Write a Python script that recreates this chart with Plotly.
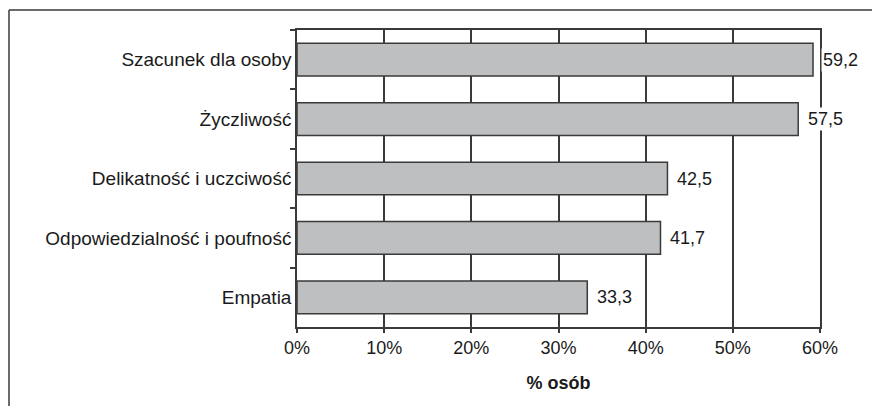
import plotly.graph_objects as go

# Survey results: share of respondents naming each attribute
categories = [
    "Szacunek dla osoby",
    "Życzliwość",
    "Delikatność i uczciwość",
    "Odpowiedzialność i poufność",
    "Empatia",
]
values = [59.2, 57.5, 42.5, 41.7, 33.3]
x_ticks = [0, 10, 20, 30, 40, 50, 60]
x_title = "<b>% osób</b>"

FONT = "Liberation Sans, Arial, Helvetica, sans-serif"
INK = "#1a1a1a"
LINE = "#3a3a3a"

W, H = 872, 406
M_L, M_R, M_T, M_B = 297, 52, 30, 79

fig = go.Figure()
fig.add_trace(
    go.Bar(
        x=values,
        y=categories,
        orientation="h",
        marker=dict(color="#bebfc1", line=dict(color=LINE, width=1.5)),
        hoverinfo="skip",
    )
)

# value labels just past the end of each bar, on a white backing
for cat, v in zip(categories, values):
    fig.add_annotation(
        x=v, y=cat, xref="x", yref="y",
        text=f"{v:.1f}".replace(".", ","),
        showarrow=False, xanchor="left", yanchor="middle", xshift=8,
        bgcolor="white", borderpad=1,
        font=dict(family=FONT, size=18, color=INK),
    )

# outer frame: top and left edges only
pw = W - M_L - M_R
ph = H - M_T - M_B
fx0 = (9 - M_L) / pw
fx1 = (W + 20 - M_L) / pw
fy_top = 1 + (M_T - 10) / ph
fy_bot = -(M_B + 20) / ph
fig.add_shape(type="line", xref="paper", yref="paper",
              x0=fx0, x1=fx1, y0=fy_top, y1=fy_top,
              line=dict(color=LINE, width=1.5))
fig.add_shape(type="line", xref="paper", yref="paper",
              x0=fx0, x1=fx0, y0=fy_bot, y1=fy_top,
              line=dict(color=LINE, width=1.5))

fig.update_layout(
    width=W, height=H,
    margin=dict(l=M_L, r=M_R, t=M_T, b=M_B),
    paper_bgcolor="white", plot_bgcolor="white",
    bargap=0.45,
    showlegend=False,
    font=dict(family=FONT, size=18, color=INK),
    xaxis=dict(
        range=[0, 60], tickvals=x_ticks, ticktext=[f"{t}%" for t in x_ticks],
        showgrid=True, gridcolor=LINE, gridwidth=1.5,
        showline=True, linecolor=LINE, linewidth=1.5, mirror=True,
        ticks="outside", ticklen=4, tickcolor=LINE, tickwidth=1.5,
        tickfont=dict(size=18, color=INK),
        zeroline=False, fixedrange=True,
        title=dict(text=x_title, font=dict(size=18, color=INK), standoff=19),
    ),
    yaxis=dict(
        type="category", autorange="reversed",
        tickson="boundaries", ticks="outside", ticklen=5,
        tickcolor=LINE, tickwidth=1.5,
        showgrid=False, showline=True, linecolor=LINE, linewidth=1.5, mirror=True,
        tickfont=dict(size=19, color=INK), fixedrange=True,
    ),
)

fig.write_html("out.html")
